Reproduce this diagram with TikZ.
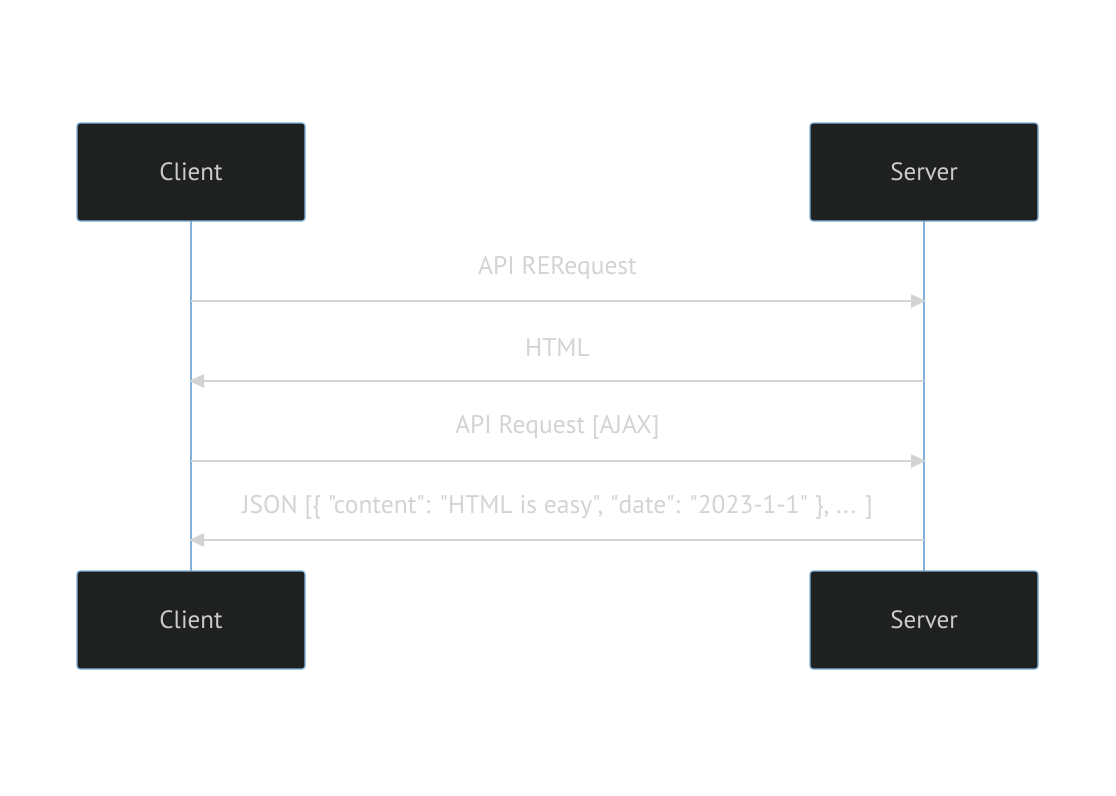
\documentclass[tikz,border=0pt]{standalone}
\usepackage{fontspec}
\newfontfamily\labelfont{PT Sans}
\usetikzlibrary{arrows.meta}
\definecolor{boxfill}{HTML}{1F2020}
\definecolor{boxline}{HTML}{81B1DB}
\definecolor{boxtext}{HTML}{CCCCCC}
\definecolor{msgcol}{HTML}{D3D3D3}
\tikzset{
  actor/.style={draw=boxline, line width=1.2pt, fill=boxfill, rounded corners=3pt,
    minimum width=228pt, minimum height=98pt, inner sep=0pt,
    text=boxtext, font=\labelfont\fontsize{25}{30}\selectfont},
  lifeline/.style={draw=boxline, line width=2.6pt},
  msg/.style={draw=msgcol, line width=2.2pt, -{Triangle[length=15pt,width=13pt]}},
  msglabel/.style={text=msgcol, font=\labelfont\fontsize{25.5}{30}\selectfont, inner sep=0pt}
}
\begin{document}
\begin{tikzpicture}[x=1pt,y=-1pt]
\useasboundingbox (0,0) rectangle (1116,795);
\draw[lifeline] (191,221) -- (191,571);
\draw[lifeline] (924,221) -- (924,571);
\node[actor] (c1) at (191,172) {Client};
\node[actor] (s1) at (924,172) {Server};
\node[actor] (c2) at (191,620) {Client};
\node[actor] (s2) at (924,620) {Server};
\coordinate (c-a) at (191,301); \coordinate (s-a) at (926,301);
\coordinate (c-b) at (189,381); \coordinate (s-b) at (924,381);
\coordinate (c-c) at (191,461); \coordinate (s-c) at (926,461);
\coordinate (c-d) at (189,540); \coordinate (s-d) at (924,540);
\draw[msg] (c-a) -- (s-a);
\draw[msg] (s-b) -- (c-b);
\draw[msg] (c-c) -- (s-c);
\draw[msg] (s-d) -- (c-d);
\node[msglabel] (l1) at (557.5,268) {API RERequest};
\node[msglabel] (l2) at (557.5,348) {HTML};
\node[msglabel] (l3) at (557.5,427) {API Request [AJAX]};
\node[msglabel] (l4) at (557.5,507) {JSON [\{ "content": "HTML is easy", "date": "2023-1-1" \}, ... ]};
\end{tikzpicture}
\end{document}
